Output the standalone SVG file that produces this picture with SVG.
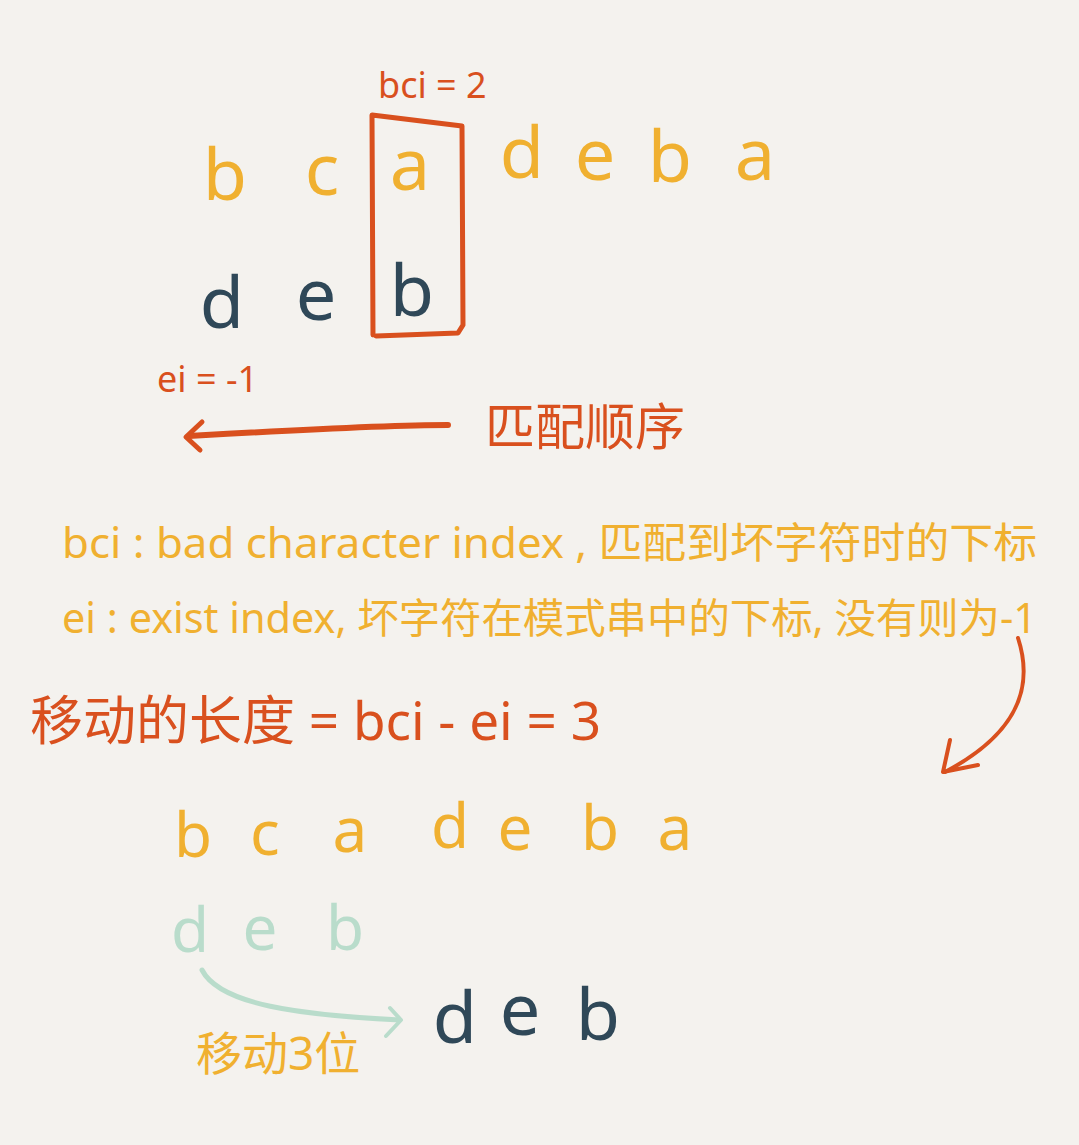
<svg xmlns="http://www.w3.org/2000/svg" width="1079" height="1145" viewBox="0 0 1079 1145">
<defs>
<style>
.bg{fill:#f4f2ee}
.t{font-family:"Noto Sans","Noto Sans CJK SC",sans-serif}
.y{fill:#f0b030}
.r{fill:#d9501e}
.k{fill:#2f4858}
.m{fill:#b9dccb}
.big{font-size:72px;text-anchor:middle}
.mid{font-size:62px;text-anchor:middle}
.ln{fill:none;stroke-linecap:round;stroke-linejoin:round}
</style>
</defs>
<rect class="bg" x="0" y="0" width="1079" height="1145"/>

<g id="text-row" class="t y big">
<text x="225" y="200">b</text>
<text x="322" y="195">c</text>
<text x="410" y="190">a</text>
<text x="522" y="178">d</text>
<text x="595" y="180">e</text>
<text x="670" y="182">b</text>
<text x="755" y="180">a</text>
</g>

<g id="pattern-row" class="t k big">
<text x="222" y="328">d</text>
<text x="316" y="320">e</text>
<text x="412" y="316">b</text>
</g>

<g id="bad-char-box">
<path class="ln" d="M373,335 L372,115 L462,126 L463,325 L458,333 L376,336" stroke="#d9501e" stroke-width="5"/>
<text class="t r" x="378" y="98" font-size="36">bci = 2</text>
</g>

<g id="ei-label">
<text class="t r" x="157" y="392" font-size="36">ei = -1</text>
</g>

<g id="match-order">
<text class="t r" x="485" y="445" font-size="50">匹配顺序</text>
</g>

<g id="definitions" class="t y">
<text x="62" y="558" font-size="42" textLength="975" lengthAdjust="spacingAndGlyphs">bci : bad character index , 匹配到坏字符时的下标</text>
<text x="62" y="633" font-size="41" textLength="975" lengthAdjust="spacingAndGlyphs">ei : exist index, 坏字符在模式串中的下标, 没有则为-1</text>
</g>

<g id="formula">
<text class="t r" x="30" y="740" font-size="53">移动的长度 = bci - ei = 3</text>
</g>

<g id="text-row-2" class="t y mid">
<text x="193" y="857">b</text>
<text x="265" y="855">c</text>
<text x="350" y="852">a</text>
<text x="450" y="848">d</text>
<text x="515" y="850">e</text>
<text x="600" y="850">b</text>
<text x="675" y="850">a</text>
</g>

<g id="pattern-old" class="t m mid">
<text x="190" y="952">d</text>
<text x="260" y="950">e</text>
<text x="345" y="950">b</text>
</g>

<g id="pattern-new" class="t k big">
<text x="455" y="1043">d</text>
<text x="520" y="1035">e</text>
<text x="598" y="1040">b</text>
</g>

<g id="shift-label">
<text class="t y" x="196" y="1070" font-size="46">移动3位</text>
</g>

<g id="connectors">
<path class="ln" d="M448,425 C380,425 260,432 190,436" stroke="#d9501e" stroke-width="6"/>
<path class="ln" d="M202,422 L186,437 L200,450" stroke="#d9501e" stroke-width="5"/>
<path class="ln" d="M1018,638 C1035,690 1015,735 945,772" stroke="#d9501e" stroke-width="4"/>
<path class="ln" d="M950,740 L943,772 L978,765" stroke="#d9501e" stroke-width="4"/>
<path class="ln" d="M202,970 C220,1005 300,1015 400,1020" stroke="#b9dccb" stroke-width="5"/>
<path class="ln" d="M390,1008 L401,1020 L386,1036" stroke="#b9dccb" stroke-width="4"/>
</g>
</svg>
